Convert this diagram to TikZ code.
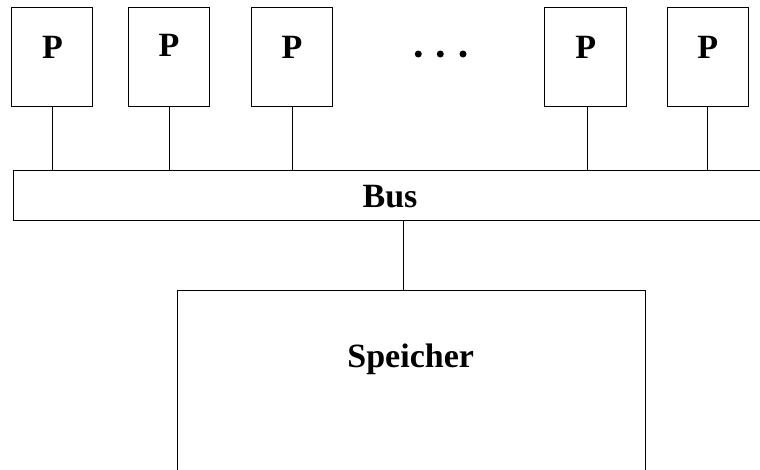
\documentclass[tikz,border=0pt]{standalone}
\usepackage{fontspec}
\setmainfont{Liberation Serif}
\begin{document}
\begin{tikzpicture}[x=1pt,y=-1pt,
  box/.style={draw,line width=1pt,inner sep=0pt,outer sep=0pt},
  lbl/.style={font=\fontsize{34}{40}\selectfont\bfseries,inner sep=0pt,anchor=base},
  wire/.style={line width=1pt},
  dot/.style={circle,fill,inner sep=0pt,minimum size=7pt}]
\clip (0,0) rectangle (760,469);
\useasboundingbox (0,0) rectangle (760,469);

% processors
\node[box,minimum width=81pt,minimum height=99pt] (p1) at (52,56.5) {};
\node[box,minimum width=81pt,minimum height=99pt] (p2) at (169,56.5) {};
\node[box,minimum width=81pt,minimum height=99pt] (p3) at (292,56.5) {};
\node[box,minimum width=82pt,minimum height=99pt] (p4) at (585,56.5) {};
\node[box,minimum width=81pt,minimum height=99pt] (p5) at (707.5,56.5) {};
\node[lbl] (l1) at (52.5,58) {P};
\node[lbl] (l2) at (169,56.5) {P};
\node[lbl] (l3) at (292,58) {P};
\node[lbl] (l4) at (585.7,58) {P};
\node[lbl] (l5) at (707.7,58) {P};

% ellipsis
\node[dot] (d1) at (418.3,54) {};
\node[dot] (d2) at (440.3,54) {};
\node[dot] (d3) at (463,54) {};

% bus
\node[box,minimum width=767pt,minimum height=50.3pt] (bus) at (396.7,195.8) {};
\node[lbl] (lbus) at (390,207.3) {Bus};

% memory
\node[box,minimum width=468pt,minimum height=240pt] (mem) at (411.3,410.7) {};
\node[lbl] (lmem) at (410.7,367) {Speicher};

% connectors
\draw[wire] (p1.south) -- (p1.south |- bus.north);
\draw[wire] (p2.south) -- (p2.south |- bus.north);
\draw[wire] (p3.south) -- (p3.south |- bus.north);
\draw[wire] ([xshift=2.7pt]p4.south) -- ([xshift=2.7pt]p4.south |- bus.north);
\draw[wire] (p5.south) -- (p5.south |- bus.north);
\draw[wire] (bus.south -| 403,0) -- (mem.north -| 403,0);
\end{tikzpicture}
\end{document}
